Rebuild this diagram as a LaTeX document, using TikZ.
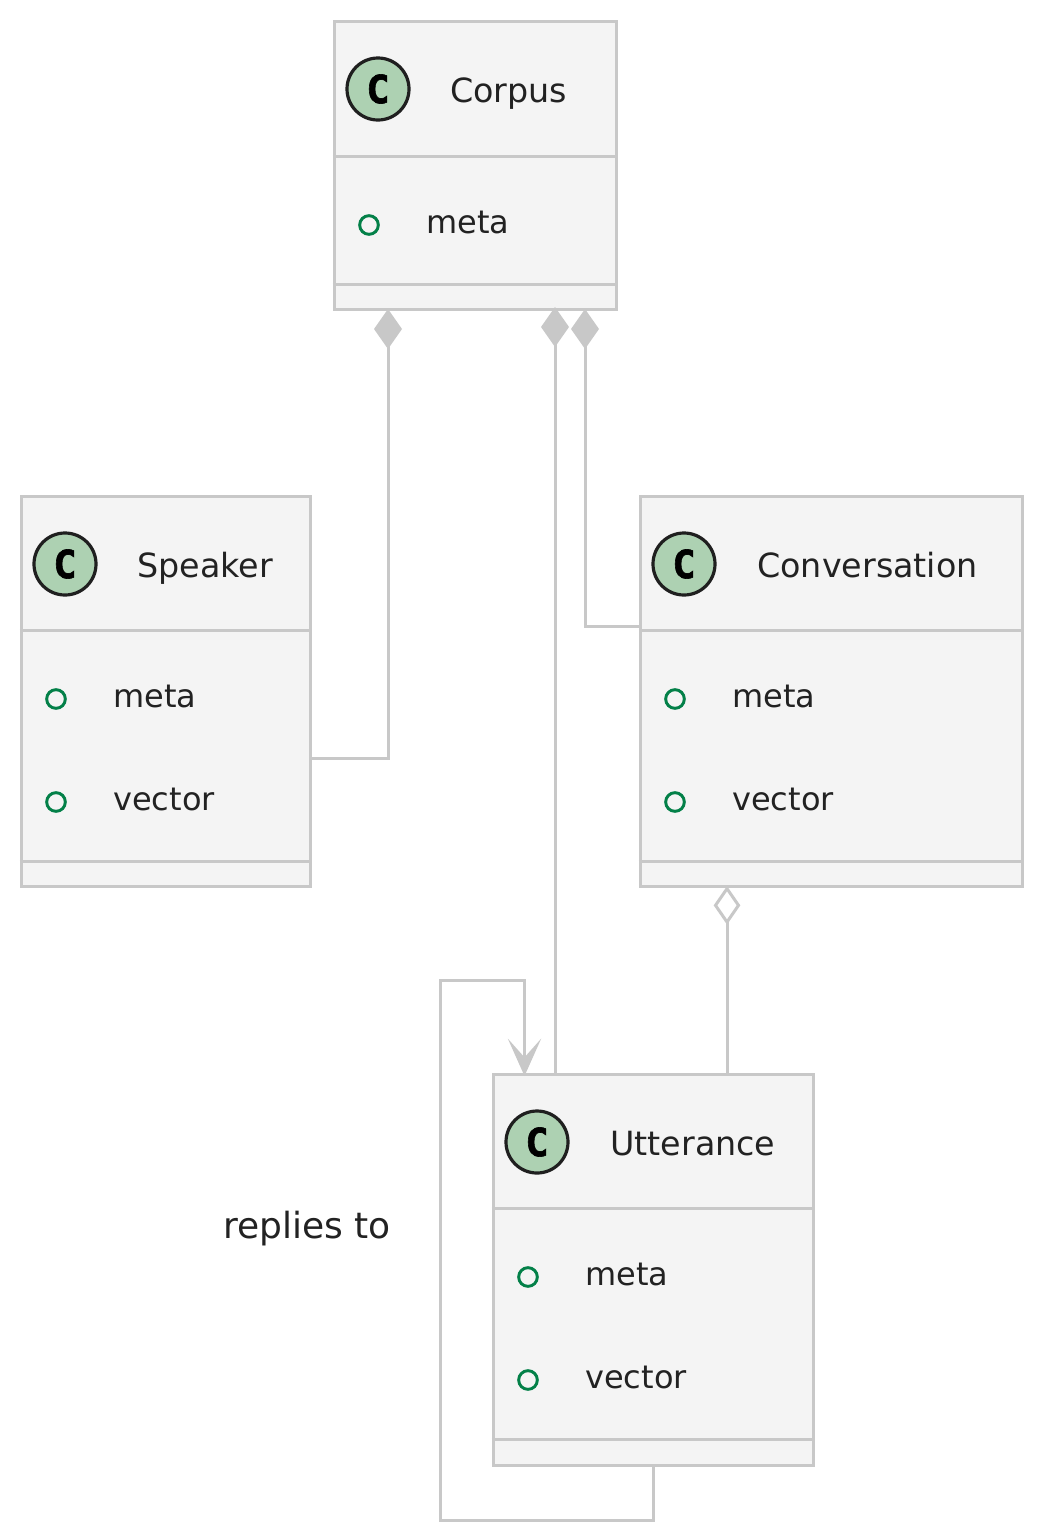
\documentclass[tikz,border=0pt]{standalone}
\usepackage{fontspec}
\setmainfont{DejaVu Sans}
\newfontfamily\spotfont[FakeBold=1.6]{DejaVu Sans Mono}
\usetikzlibrary{arrows.meta}
\definecolor{boxline}{HTML}{C8C8C8}
\definecolor{boxfill}{HTML}{F4F4F4}
\definecolor{spotfill}{HTML}{ADD1B2}
\definecolor{dotline}{HTML}{038048}
\definecolor{labeltext}{HTML}{222222}

\begin{document}
\begin{tikzpicture}[x=0.75pt,y=-0.75pt]
  \tikzset{classbox/.style={rectangle,draw=boxline,fill=boxfill,line width=2.25pt,inner sep=0pt}}
  \tikzset{classline/.style={draw=boxline,line width=2.25pt}}
  \tikzset{connline/.style={draw=boxline,line width=2.25pt}}
  \tikzset{spot/.style={circle,draw=black!88,fill=spotfill,line width=2.4pt,inner sep=0pt,minimum size=46.5pt,font=\spotfont\bfseries\fontsize{29}{29}\selectfont,text=black}}
  \tikzset{memberdot/.style={circle,draw=dotline,line width=2.2pt,inner sep=0pt,minimum size=14pt}}
  \tikzset{classname/.style={anchor=base west,inner sep=0pt,text=labeltext,font=\fontsize{25}{25}\selectfont}}
  \tikzset{membername/.style={anchor=base west,inner sep=0pt,text=labeltext,font=\fontsize{24}{24}\selectfont}}
  \tikzset{solidtip/.style={{Diamond[length=30pt,width=21pt,fill=boxline]}-}}
  \tikzset{opentip/.style={{Diamond[length=29pt,width=20pt,fill=white]}-}}
  \tikzset{opentail/.style={-{Stealth[length=28pt,width=25pt,inset=14pt,fill=boxline]}}}
  \useasboundingbox (0,0) rectangle (1040,1539);
  % boxes
  \node[classbox,minimum width=211.5pt,minimum height=216pt] (corpus) at (475,165) {};
  \node[classbox,minimum width=216.75pt,minimum height=292.5pt] (speaker) at (165.5,691) {};
  \node[classbox,minimum width=286.5pt,minimum height=292.5pt] (conversation) at (831,691) {};
  \node[classbox,minimum width=240pt,minimum height=293.25pt] (utterance) at (653,1269.5) {};
  % dividers
  \draw[classline] (corpus.west |- 0,156) -- (corpus.east |- 0,156);
  \draw[classline] (corpus.west |- 0,284) -- (corpus.east |- 0,284);
  \draw[classline] (speaker.west |- 0,630) -- (speaker.east |- 0,630);
  \draw[classline] (speaker.west |- 0,861) -- (speaker.east |- 0,861);
  \draw[classline] (conversation.west |- 0,630) -- (conversation.east |- 0,630);
  \draw[classline] (conversation.west |- 0,861) -- (conversation.east |- 0,861);
  \draw[classline] (utterance.west |- 0,1208) -- (utterance.east |- 0,1208);
  \draw[classline] (utterance.west |- 0,1439) -- (utterance.east |- 0,1439);
  % headers
  \node[spot] (corpusspot) at (378,89) {C};
  \node[classname] (corpustitle) at (450,102) {Corpus};
  \node[spot] (speakerspot) at (65,564) {C};
  \node[classname] (speakertitle) at (137,577) {Speaker};
  \node[spot] (conversationspot) at (684,564) {C};
  \node[classname] (conversationtitle) at (757,577) {Conversation};
  \node[spot] (utterancespot) at (537,1142) {C};
  \node[classname] (utterancetitle) at (610,1155) {Utterance};
  % members
  \node[memberdot] (corpusdotA) at (369,225) {};
  \node[membername] (corpusmeta) at (426,233) {meta};
  \node[memberdot] (speakerdotA) at (56,699) {};
  \node[membername] (speakermeta) at (113,707) {meta};
  \node[memberdot] (speakerdotB) at (56,802) {};
  \node[membername] (speakervector) at (113,810) {vector};
  \node[memberdot] (conversationdotA) at (675,699) {};
  \node[membername] (conversationmeta) at (732,707) {meta};
  \node[memberdot] (conversationdotB) at (675,802) {};
  \node[membername] (conversationvector) at (732,810) {vector};
  \node[memberdot] (utterancedotA) at (528,1277) {};
  \node[membername] (utterancemeta) at (585,1285) {meta};
  \node[memberdot] (utterancedotB) at (528,1380) {};
  \node[membername] (utterancevector) at (585,1388) {vector};
  % connector ends
  \coordinate (corpusA) at (388,309);
  \coordinate (corpusB) at (555,307);
  \coordinate (corpusC) at (585,309);
  \coordinate (speakerA) at (310,758);
  \coordinate (conversationA) at (640,626);
  \coordinate (conversationB) at (727,886);
  \coordinate (utteranceA) at (555,1074);
  \coordinate (utteranceB) at (727,1074);
  \coordinate (utteranceC) at (524.5,1076);
  \coordinate (utteranceD) at (653,1465);
  \coordinate (loopA) at (653,1520);
  \coordinate (loopB) at (440,1520);
  \coordinate (loopC) at (440,980);
  \coordinate (loopD) at (524.5,980);
  % connectors
  \draw[connline,solidtip] (corpusA) |- (speakerA);
  \draw[connline,solidtip] (corpusB) -- (utteranceA);
  \draw[connline,solidtip] (corpusC) |- (conversationA);
  \draw[connline,opentip] (conversationB) -- (utteranceB);
  \draw[connline,opentail] (utteranceD) -- (loopA) -- (loopB) -- (loopC) -- (loopD) -- (utteranceC);
  \node[classname,font=\fontsize{27}{27}\selectfont] (replieslabel) at (223,1238) {replies to};
\end{tikzpicture}
\end{document}
